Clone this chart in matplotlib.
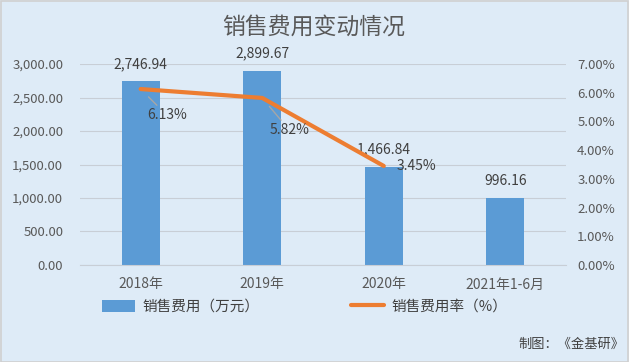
import matplotlib
matplotlib.use("Agg")
import matplotlib.pyplot as plt
from matplotlib.patches import Rectangle
from matplotlib.ticker import FuncFormatter

plt.rcParams['font.family'] = ['Noto Sans CJK SC', 'DejaVu Sans']

# data
categories = ["2018年", "2019年", "2020年", "2021年1-6月"]
expense = [2746.94, 2899.67, 1466.84, 996.16]      # 万元
rate = [6.13, 5.82, 3.45]                           # %, only three years
expense_labels = ["2,746.94", "2,899.67", "1,466.84", "996.16"]
rate_labels = ["6.13%", "5.82%", "3.45%"]

bg = "#DEEBF7"
bar_color = "#5B9BD5"
line_color = "#ED7D31"
txt = "#595959"

fig = plt.figure(figsize=(6.29, 3.62), dpi=100, facecolor=bg)
fig.patches.append(Rectangle((0.001, 0.001), 0.997, 0.996, transform=fig.transFigure,
                             fill=False, edgecolor="#D0D0D0", linewidth=1.2))
ax = fig.add_axes([0.127, 0.268, 0.773, 0.555])
ax.set_facecolor(bg)

x = list(range(len(categories)))
bars = ax.bar(x, expense, width=0.31, color=bar_color, zorder=2, label="销售费用（万元）")
ax.set_xlim(-0.5, len(categories) - 0.5)
ax.set_ylim(0, 3000)
ax.set_yticks([0, 500, 1000, 1500, 2000, 2500, 3000])
ax.yaxis.set_major_formatter(FuncFormatter(lambda v, p: f"{v:,.2f}"))
ax.grid(axis="y", color="#C8CED6", linewidth=0.8, zorder=0)
ax.set_xticks(x)
ax.set_xticklabels(categories)
ax.tick_params(length=0, colors=txt, labelsize=9.5)
ax.tick_params(axis="x", pad=9, labelsize=10)
ax.tick_params(axis="y", pad=12)
for s in ax.spines.values():
    s.set_visible(False)
ax.spines["bottom"].set_visible(True)
ax.spines["bottom"].set_color("#C8CED6")

for xi, v, lab in zip(x, expense, expense_labels):
    ax.annotate(lab, (xi, v), xytext=(0, 17), textcoords="offset pixels",
                ha="center", va="center", fontsize=10, color="#404040", zorder=5)

ax2 = ax.twinx()
ax2.set_ylim(0, 7)
ax2.set_yticks([0, 1, 2, 3, 4, 5, 6, 7])
ax2.yaxis.set_major_formatter(FuncFormatter(lambda v, p: f"{v:.2f}%"))
ax2.tick_params(length=0, colors=txt, labelsize=9.5, pad=8)
for s in ax2.spines.values():
    s.set_visible(False)
line, = ax2.plot(x[:len(rate)], rate, color=line_color, linewidth=3,
                 solid_capstyle="round", zorder=4, label="销售费用率（%）")

offsets = [(26, -26), (27, -32), (33, 0)]
for xi, v, lab, off in zip(x, rate, rate_labels, offsets):
    leader = dict(arrowstyle="-", color="#A6A6A6", linewidth=1, shrinkA=0, shrinkB=8) if off[1] else None
    ax2.annotate(lab, (xi, v), xytext=off, textcoords="offset pixels",
                 ha="center", va="center", fontsize=10, color="#404040",
                 arrowprops=leader, zorder=6)

fig.text(0.498, 0.925, "销售费用变动情况", ha="center", va="center", fontsize=16.5, color=txt)
fig.legend([bars, line], ["销售费用（万元）", "销售费用率（%）"], loc="center",
           bbox_to_anchor=(0.484, 0.152), ncol=2, frameon=False, fontsize=10.5,
           handlelength=2.3, handleheight=0.9, handletextpad=0.45, columnspacing=6.3,
           labelcolor="#404040")
fig.text(0.992, 0.05, "制图：《金基研》", ha="right", va="center", fontsize=9.5, color="#404040")

fig.savefig("out.png", dpi=100, facecolor=bg)
